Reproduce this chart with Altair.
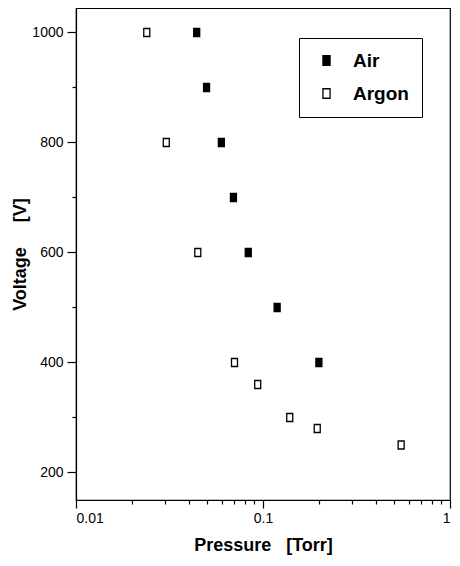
import altair as alt
import pandas as pd

air_p = [0.0442, 0.0499, 0.0599, 0.0695, 0.0834, 0.119, 0.199]
air_v = [1000, 900, 800, 700, 600, 500, 400]
argon_p = [0.0239, 0.0304, 0.0448, 0.0704, 0.0937, 0.139, 0.195, 0.548]
argon_v = [1000, 800, 600, 400, 360, 300, 280, 250]
gases = ["Air", "Argon"]

x_major = [0.01, 0.1, 1]
x_minor = [0.02, 0.03, 0.04, 0.05, 0.06, 0.07, 0.08, 0.09,
           0.2, 0.3, 0.4, 0.5, 0.6, 0.7, 0.8, 0.9]
y_major = [200, 400, 600, 800, 1000]
y_minor = [300, 500, 700, 900]

df = pd.DataFrame({
    "p": air_p + argon_p,
    "v": air_v + argon_v,
    "gas": [gases[0]] * len(air_p) + [gases[1]] * len(argon_p),
})

FONT = "Liberation Sans, Arial, sans-serif"
SQ = "M-0.75,-1L0.75,-1L0.75,1L-0.75,1Z"
NB = "\u00a0"

xscale = alt.Scale(type="log", domain=[0.01, 1], nice=False)
yscale = alt.Scale(domain=[150, 1044.5], nice=False, zero=False)

base = alt.Chart(df)

minor = base.mark_point(opacity=0).encode(
    x=alt.X("p:Q", scale=xscale,
            axis=alt.Axis(values=x_minor, labels=False, tickSize=4, title=None,
                          domain=False, orient="bottom", grid=False)),
    y=alt.Y("v:Q", scale=yscale,
            axis=alt.Axis(values=y_minor, labels=False, tickSize=4, title=None,
                          domain=False, orient="left", grid=False)),
)

main = base.mark_point(shape=SQ, filled=True, size=64, stroke="black",
                       strokeWidth=1.3, opacity=1).encode(
    x=alt.X("p:Q", scale=xscale,
            axis=alt.Axis(values=x_major, format="~g", tickSize=8, orient="bottom",
                          title="Pressure" + NB * 3 + "[Torr]", grid=False,
                          labelPadding=3, titlePadding=11)),
    y=alt.Y("v:Q", scale=yscale,
            axis=alt.Axis(values=y_major, format="d", tickSize=9, orient="left",
                          title="Voltage" + NB * 5 + "[V]", grid=False,
                          labelPadding=4, titlePadding=2)),
    fill=alt.Fill("gas:N", scale=alt.Scale(domain=gases, range=["black", "white"]),
                  legend=alt.Legend(title=None, orient="none", legendX=223, legendY=30,
                                    strokeColor="black", fillColor="white", padding=13,
                                    symbolOffset=5, symbolType=SQ, symbolSize=90,
                                    symbolStrokeColor="black", symbolStrokeWidth=1.3,
                                    labelFont=FONT, labelFontSize=19, labelFontWeight="bold",
                                    labelOffset=17, rowPadding=13, labelColor="black")),
)

chart = alt.layer(minor, main).resolve_axis(x="independent", y="independent").properties(
    width=374, height=492,
    background="white",
    autosize=alt.AutoSizeParams(type="none"),
    padding={"left": 68, "top": 0, "right": 2, "bottom": 58},
).configure_view(stroke="black", strokeWidth=1.2).configure_axis(
    domainColor="black", tickColor="black", labelColor="black", titleColor="black",
    labelFont=FONT, labelFontSize=14, titleFont=FONT, titleFontSize=18,
    titleFontWeight="bold", domainWidth=1.2, tickWidth=1.2,
)

chart.save("out.html", embed_options={"renderer": "svg", "actions": False})
